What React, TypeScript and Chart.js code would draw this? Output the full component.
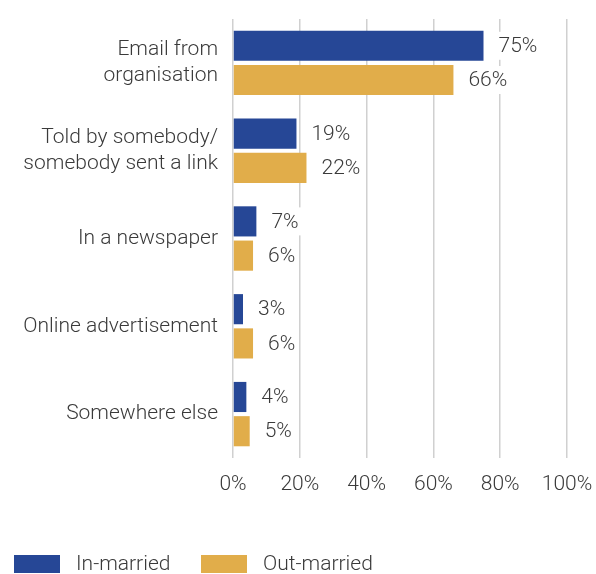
import React, { useEffect, useRef } from "react";
import { Chart, registerables } from "chart.js";

Chart.register(...registerables);

const categories: (string | string[])[] = [
  ["Email from", "organisation"],
  ["Told by somebody/", "somebody sent a link"],
  "In a newspaper",
  "Online advertisement",
  "Somewhere else",
];
const inMarried = [75, 19, 7, 3, 4];
const outMarried = [66, 22, 6, 6, 5];
const xTicks = [0, 20, 40, 60, 80, 100];
const seriesNames = ["In-married", "Out-married"];
const seriesColors = ["#264796", "#E1AD4A"];

const FONT = "Roboto, 'Noto Sans', sans-serif";
const TEXT = "#3a3a3a";
const SIZE = 21;
const WEIGHT = "300";

const labelPlugin = {
  id: "barLabels",
  afterDatasetsDraw(chart: any) {
    const ctx = chart.ctx;
    ctx.save();
    ctx.font = `${WEIGHT} ${SIZE}px ${FONT}`;
    ctx.textBaseline = "middle";
    ctx.textAlign = "left";
    chart.data.datasets.forEach((ds: any, di: number) => {
      const meta = chart.getDatasetMeta(di);
      meta.data.forEach((bar: any, i: number) => {
        const txt = `${ds.data[i]}%`;
        const w = ctx.measureText(txt).width;
        const x = bar.x + 15;
        const y = bar.y;
        ctx.fillStyle = "#ffffff";
        ctx.fillRect(x - 3, y - 14, w + 6, 28);
        ctx.fillStyle = TEXT;
        ctx.fillText(txt, x, y + 1);
      });
    });
    ctx.restore();
  },
  afterDraw(chart: any) {
    const ctx = chart.ctx;
    ctx.save();
    ctx.font = `${WEIGHT} ${SIZE}px ${FONT}`;
    ctx.textBaseline = "middle";
    ctx.textAlign = "left";
    const xs = [14, 201];
    seriesNames.forEach((n, i) => {
      ctx.fillStyle = seriesColors[i];
      ctx.fillRect(xs[i], 555, 46, 18);
      ctx.fillStyle = TEXT;
      ctx.fillText(n, xs[i] + 62, 565);
    });
    ctx.restore();
  },
};

export default function App() {
  const ref = useRef<HTMLCanvasElement | null>(null);
  useEffect(() => {
    if (!ref.current) return;
    const chart = new Chart(ref.current, {
      type: "bar",
      data: {
        labels: categories,
        datasets: [
          {
            label: seriesNames[0],
            data: inMarried,
            backgroundColor: seriesColors[0],
            categoryPercentage: 0.78,
            barPercentage: 0.88,
          },
          {
            label: seriesNames[1],
            data: outMarried,
            backgroundColor: seriesColors[1],
            categoryPercentage: 0.78,
            barPercentage: 0.88,
          },
        ],
      },
      options: {
        indexAxis: "y",
        animation: false,
        responsive: false,
        maintainAspectRatio: false,
        layout: { padding: { left: 0, right: 29, top: 19, bottom: 76 } },
        plugins: {
          legend: { display: false },
          tooltip: { enabled: false },
        },
        scales: {
          x: {
            min: 0,
            max: 100,
            afterBuildTicks(scale: any) {
              scale.ticks = xTicks.map((v) => ({ value: v }));
            },
            afterFit(scale: any) {
              scale.height = 40;
              scale.paddingLeft = 0;
              scale.paddingRight = 0;
            },
            ticks: {
              padding: 14,
              color: TEXT,
              font: { family: FONT, size: SIZE, weight: WEIGHT },
              callback: (v: any) => `${v}%`,
            },
            grid: { color: "#d0d0d0", lineWidth: 1.5, drawTicks: false },
            border: { display: false },
          },
          y: {
            afterFit(scale: any) {
              scale.width = 233;
              scale.paddingTop = 0;
              scale.paddingBottom = 0;
            },
            ticks: {
              padding: 7,
              color: TEXT,
              font: { family: FONT, size: SIZE, weight: WEIGHT, lineHeight: 1.24 },
            },
            grid: { display: false },
            border: { display: false },
          },
        },
      },
      plugins: [labelPlugin],
    });
    return () => chart.destroy();
  }, []);
  return (
    <div style={{ position: "fixed", left: 0, top: 0, width: 596, height: 574, background: "#fff" }}>
      <canvas ref={ref} width={596} height={574} style={{ width: 596, height: 574 }} />
    </div>
  );
}
